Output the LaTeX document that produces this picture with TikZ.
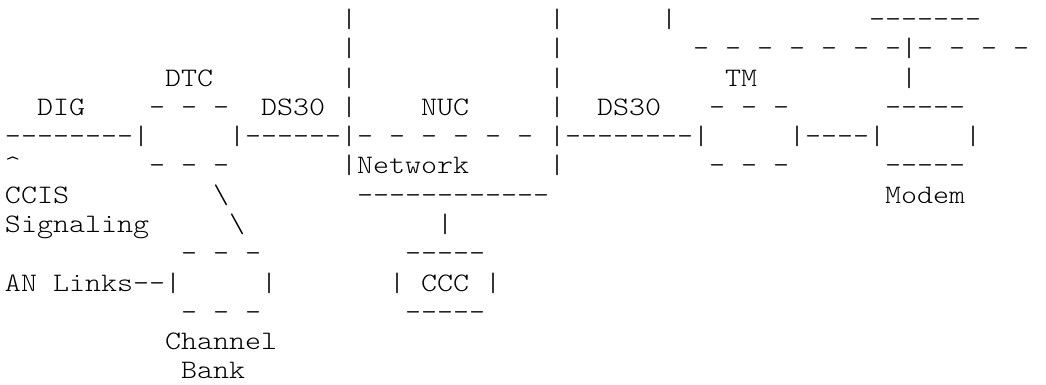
\documentclass[tikz,border=0pt]{standalone}
\usepackage{fontspec}
\setmonofont{Latin Modern Mono Light}[FakeStretch=1.14286, WordSpace={1,0,0}]
\tikzset{
  ascii/.style={anchor=base west, inner sep=0pt, outer sep=0pt,
    font=\ttfamily\fontsize{26.67}{29.28}\selectfont, text=black}
}
\newcommand{\putt}[4]{\node[ascii] (#1) at ({5+16*#2},{385-27.6-29.28*#3}) {#4};}
\begin{document}
\begin{tikzpicture}[x=1pt,y=1pt]
\useasboundingbox (0,0) rectangle (1046,385);
% row 0
\putt{a0}{21}{0}{|}
\putt{b0}{34}{0}{|}
\putt{c0}{41}{0}{|}
\putt{d0}{54}{0}{-------}
% row 1
\putt{a1}{21}{1}{|}
\putt{b1}{34}{1}{|}
\putt{c1}{43}{1}{- - - - - - -|- - - -}
% row 2
\putt{dtc}{10}{2}{DTC}
\putt{a2}{21}{2}{|}
\putt{b2}{34}{2}{|}
\putt{tm}{45}{2}{TM}
\putt{c2}{56}{2}{|}
% row 3
\putt{dig}{2}{3}{DIG}
\putt{dtctop}{9}{3}{- - -}
\putt{ds1}{16}{3}{DS30}
\putt{a3}{21}{3}{|}
\putt{nuc}{26}{3}{NUC}
\putt{b3}{34}{3}{|}
\putt{ds2}{37}{3}{DS30}
\putt{tmtop}{44}{3}{- - -}
\putt{modtop}{55}{3}{-----}
% row 4
\putt{a4}{0}{4}{--------|}
\putt{b4}{14}{4}{|------|- - - - - -}
\putt{c4}{34}{4}{|--------|}
\putt{d4}{49}{4}{|----|}
\putt{e4}{60}{4}{|}
% row 5
\putt{caret}{0}{5}{\textasciicircum}
\putt{dtcbot}{9}{5}{- - -}
\putt{net}{21}{5}{|Network}
\putt{b5}{34}{5}{|}
\putt{tmbot}{44}{5}{- - -}
\putt{modbot}{55}{5}{-----}
% row 6
\putt{ccis}{0}{6}{CCIS}
\putt{bs1}{13}{6}{\textbackslash}
\putt{netbot}{22}{6}{------------}
\putt{modem}{55}{6}{Modem}
% row 7
\putt{sig}{0}{7}{Signaling}
\putt{bs2}{14}{7}{\textbackslash}
\putt{a7}{27}{7}{|}
% row 8
\putt{cbtop}{11}{8}{- - -}
\putt{ccctop}{25}{8}{-----}
% row 9
\putt{an}{0}{9}{AN Links--|}
\putt{cbr}{16}{9}{|}
\putt{ccc}{24}{9}{| CCC |}
% row 10
\putt{cbbot}{11}{10}{- - -}
\putt{cccbot}{25}{10}{-----}
% row 11
\putt{chan}{10}{11}{Channel}
% row 12
\putt{bank}{11}{12}{Bank}
\end{tikzpicture}
\end{document}
